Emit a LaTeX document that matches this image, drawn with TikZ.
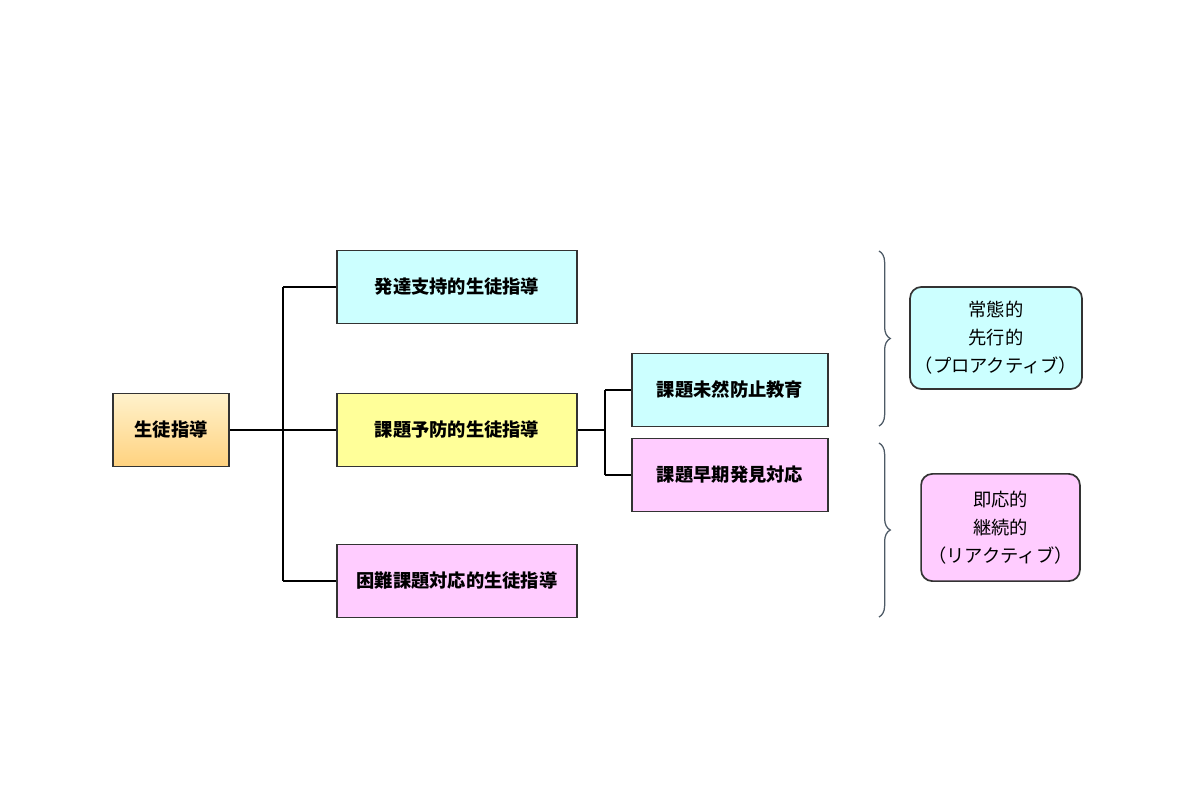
\documentclass[tikz,border=0pt]{standalone}
\usepackage{fontspec}
\setmainfont{Noto Sans CJK JP}
\usetikzlibrary{decorations.pathreplacing}
\definecolor{cyanfill}{HTML}{CCFFFF}
\definecolor{yellowfill}{HTML}{FFFF99}
\definecolor{pinkfill}{HTML}{FFCCFF}
\definecolor{roottop}{HTML}{FFF2CC}
\definecolor{rootbottom}{HTML}{FFD27F}
\definecolor{edgegray}{HTML}{333333}
\definecolor{bracegray}{HTML}{4D5A66}
\begin{document}
\begin{tikzpicture}[x=0.025cm, y=-0.025cm,
    kind/.style={draw=edgegray, line width=1.2pt, minimum width=6cm, minimum height=1.83cm,
      font=\fontsize{13}{16}\selectfont\bfseries},
    subkind/.style={kind, minimum width=4.9cm},
    mode/.style={draw=edgegray, line width=1.2pt, rounded corners=8pt, align=center,
      font=\fontsize{13}{20}\selectfont},
    link/.style={line width=0.8pt},
    bracket/.style={draw=bracegray, line width=0.9pt, decorate,
      decoration={brace, amplitude=8pt}}]

    \useasboundingbox (0,0) rectangle (1200,800);

    % Root
    \node[kind, minimum width=2.9cm, top color=roottop, bottom color=rootbottom]
      (root) at (171,430) {生徒指導};

    % Three kinds
    \node[kind, fill=cyanfill] (dev) at (457,287) {発達支持的生徒指導};
    \node[kind, fill=yellowfill] (prev) at (457,430) {課題予防的生徒指導};
    \node[kind, fill=pinkfill] (hard) at (457,581) {困難課題対応的生徒指導};

    % Prevention split
    \node[subkind, fill=cyanfill] (edu) at (730,390) {課題未然防止教育};
    \node[subkind, fill=pinkfill] (early) at (730,475) {課題早期発見対応};

    % Tree lines
    \coordinate (trunk) at (283,430);
    \coordinate (fork) at (605,430);
    \draw[link, line width=1.5pt] (root.east) -- (trunk);
    \draw[link] (trunk) -- (prev.west);
    \draw[link] (trunk |- dev.west) -- (trunk |- hard.west);
    \draw[link] (trunk |- dev.west) -- (dev.west);
    \draw[link] (trunk |- hard.west) -- (hard.west);
    \draw[link, line width=1.5pt] (prev.east) -- (fork);
    \draw[link] (fork |- edu.west) -- (fork |- early.west);
    \draw[link] (fork |- edu.west) -- (edu.west);
    \draw[link] (fork |- early.west) -- (early.west);

    % Braces
    \coordinate (b1top) at (879,251);
    \coordinate (b1bot) at (879,426);
    \coordinate (b2top) at (879,443);
    \coordinate (b2bot) at (879,617);
    \draw[bracket] (b1top) -- (b1bot);
    \draw[bracket] (b2top) -- (b2bot);

    % Modes
    \node[mode, fill=cyanfill, minimum width=4.2cm, minimum height=2.55cm]
      (pro) at (996,338) {常態的\\先行的\\（プロアクティブ）};
    \node[mode, fill=pinkfill, minimum width=3.97cm, minimum height=2.68cm]
      (re) at (1000.5,527.5) {即応的\\継続的\\（リアクティブ）};

\end{tikzpicture}
\end{document}
